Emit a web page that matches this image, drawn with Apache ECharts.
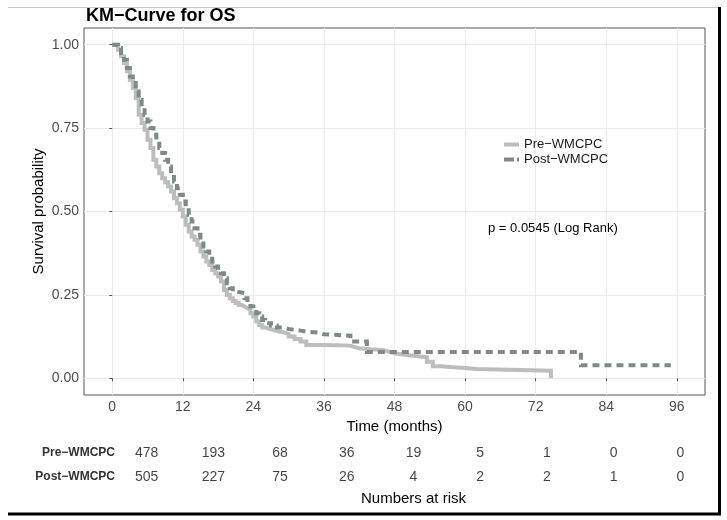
<!DOCTYPE html>
<html>
<head>
<meta charset="utf-8">
<script src="https://cdn.jsdelivr.net/npm/echarts@6/dist/echarts.min.js"></script>
<style>
html,body{margin:0;padding:0;background:#fff;}
#c{width:727px;height:520px;}
</style>
</head>
<body>
<div id="c"></div>
<script>
// ---- data ----
var groupNames = ['Pre\u2212WMCPC', 'Post\u2212WMCPC'];
var xTicks = [0, 12, 24, 36, 48, 60, 72, 84, 96];
var yTicks = [0, 0.25, 0.5, 0.75, 1.0];

var preTime = [0, 0.5, 1, 1.5, 2, 2.5, 3, 3.5, 4, 4.5, 5, 5.5, 6, 6.5, 7, 7.5, 8, 8.5, 9, 9.5, 10, 10.5, 11, 11.5, 12, 12.5, 13, 13.5, 14, 14.5, 15, 15.5, 16, 16.5, 17, 17.5, 18, 18.5, 19, 19.5, 20, 20.5, 21, 21.5, 22, 22.5, 23, 23.5, 24, 24.5, 25, 25.5, 26, 27, 28, 29, 30, 31, 32, 33, 36, 38, 40.5, 41, 42, 44, 46, 47, 48, 50, 52, 53.5, 54.5, 56, 58, 60, 62, 74.6];
var preSurv = [1.0, 0.995, 0.985, 0.965, 0.945, 0.92, 0.895, 0.87, 0.84, 0.79, 0.765, 0.745, 0.715, 0.69, 0.655, 0.635, 0.615, 0.60, 0.588, 0.575, 0.56, 0.54, 0.525, 0.505, 0.485, 0.46, 0.44, 0.425, 0.415, 0.40, 0.38, 0.365, 0.35, 0.34, 0.325, 0.315, 0.305, 0.29, 0.265, 0.25, 0.24, 0.232, 0.226, 0.22, 0.215, 0.21, 0.205, 0.195, 0.185, 0.17, 0.16, 0.152, 0.147, 0.142, 0.138, 0.133, 0.125, 0.118, 0.11, 0.10, 0.099, 0.098, 0.095, 0.09, 0.087, 0.085, 0.08, 0.075, 0.07, 0.066, 0.063, 0.05, 0.036, 0.033, 0.031, 0.028, 0.023, 0.0];

var postTime = [0, 0.5, 1, 1.5, 2, 2.5, 3, 3.5, 4, 4.5, 5, 5.5, 6, 6.5, 7, 7.5, 8, 8.5, 9, 9.5, 10, 10.5, 11, 11.5, 12, 12.5, 13, 13.5, 14, 14.5, 15, 15.5, 16, 16.5, 17, 17.5, 18, 18.5, 19, 19.5, 20, 20.5, 21, 22, 22.5, 23, 23.5, 24, 24.5, 25, 25.5, 26, 27, 28, 29, 30, 32, 33, 35, 36, 40.5, 43.3, 79.7, 95];
var postSurv = [1.0, 1.0, 0.99, 0.975, 0.955, 0.93, 0.905, 0.885, 0.86, 0.835, 0.81, 0.79, 0.77, 0.75, 0.73, 0.71, 0.69, 0.675, 0.655, 0.635, 0.61, 0.59, 0.57, 0.55, 0.53, 0.51, 0.49, 0.47, 0.45, 0.43, 0.41, 0.395, 0.38, 0.365, 0.35, 0.335, 0.325, 0.315, 0.30, 0.285, 0.27, 0.26, 0.257, 0.255, 0.24, 0.225, 0.215, 0.205, 0.195, 0.185, 0.175, 0.165, 0.158, 0.152, 0.148, 0.143, 0.14, 0.137, 0.132, 0.128, 0.11, 0.079, 0.039, 0.039];

var riskTimes = [0, 12, 24, 36, 48, 60, 72, 84, 96];
var riskPre = [478, 193, 68, 36, 19, 5, 1, 0, 0];
var riskPost = [505, 227, 75, 26, 4, 2, 2, 1, 0];

var pText = 'p = 0.0545 (Log Rank)';

// ---- build ----
function pairs(t, s) { return t.map(function (v, i) { return [v, s[i]]; }); }
var riskData = [];
riskTimes.forEach(function (t, i) {
  riskData.push([t, 0, riskPre[i]]);
  riskData.push([t, 1, riskPost[i]]);
});

var FONT = 'Liberation Sans, Arial, sans-serif';
var chart = echarts.init(document.getElementById('c'), null, {renderer: 'canvas'});
chart.setOption({
  animation: false,
  backgroundColor: '#ffffff',
  textStyle: {fontFamily: FONT},
  title: {
    text: 'KM\u2212Curve for OS',
    left: 81, top: 2,
    textStyle: {fontSize: 18, fontWeight: 'bold', color: '#000', fontFamily: FONT}
  },
  legend: {
    orient: 'vertical',
    left: 499, top: 133,
    itemWidth: 15, itemHeight: 4, itemGap: 2,
    textStyle: {fontSize: 13, color: '#1a1a1a', fontFamily: FONT},
    data: [
      {name: groupNames[0], icon: 'rect'},
      {name: groupNames[1], icon: 'path://M0,0H10V4H0Z M13,0H15V4H13Z'}
    ]
  },
  grid: [
    {left: 84, top: 28, width: 621, height: 367, show: true, borderColor: '#555', borderWidth: 1, backgroundColor: 'transparent'},
    {left: 120, top: 441, width: 587, height: 48, show: false}
  ],
  xAxis: [
    {
      type: 'value', gridIndex: 0, min: -4.8, max: 100.8,
      name: 'Time (months)', nameLocation: 'middle', nameGap: 20,
      nameTextStyle: {fontSize: 15, color: '#000', fontFamily: FONT},
      axisLine: {show: false},
      axisTick: {show: true, length: 3, lineStyle: {color: '#555'}, customValues: xTicks},
      axisLabel: {fontSize: 14, color: '#4d4d4d', margin: 5, customValues: xTicks, fontFamily: FONT},
      splitLine: {show: true, lineStyle: {color: '#ebebeb', width: 1}}
    },
    {
      type: 'value', gridIndex: 1, min: -4.8, max: 100.8,
      name: 'Numbers at risk', nameLocation: 'middle', nameGap: 2,
      nameTextStyle: {fontSize: 15, color: '#000', fontFamily: FONT, verticalAlign: 'top', padding: [0, 0, 0, 0]},
      axisLine: {show: false}, axisTick: {show: false}, axisLabel: {show: false}, splitLine: {show: false}
    }
  ],
  yAxis: [
    {
      type: 'value', gridIndex: 0, min: -0.05, max: 1.05,
      name: 'Survival probability', nameLocation: 'middle', nameGap: 38,
      nameMoveOverlap: false,
      nameTextStyle: {fontSize: 15, color: '#000', fontFamily: FONT},
      axisLine: {show: false},
      axisTick: {show: true, length: 3, lineStyle: {color: '#555'}, customValues: yTicks},
      axisLabel: {fontSize: 14, color: '#4d4d4d', margin: 5, customValues: yTicks, fontFamily: FONT,
        formatter: function (v) { return v.toFixed(2); }},
      splitLine: {show: true, lineStyle: {color: '#ebebeb', width: 1}}
    },
    {
      type: 'category', gridIndex: 1, data: groupNames, inverse: true,
      axisLine: {show: false}, axisTick: {show: false},
      axisLabel: {fontSize: 12, fontWeight: 'bold', color: '#333', margin: 5, fontFamily: FONT},
      splitLine: {show: false}
    }
  ],
  series: [
    {
      name: groupNames[0], type: 'line', step: 'end', xAxisIndex: 0, yAxisIndex: 0,
      data: pairs(preTime, preSurv), symbol: 'none', z: 2,
      color: '#bdbdbd',
      lineStyle: {color: '#bdbdbd', width: 4, cap: 'butt', join: 'miter'}
    },
    {
      name: groupNames[1], type: 'line', step: 'end', xAxisIndex: 0, yAxisIndex: 0,
      data: pairs(postTime, postSurv), symbol: 'none', z: 3,
      color: '#7d8a87',
      lineStyle: {color: '#7d8a87', width: 4, type: [7, 5], cap: 'butt', join: 'miter'}
    },
    {
      type: 'scatter', xAxisIndex: 1, yAxisIndex: 1,
      data: riskData, symbolSize: 2, itemStyle: {color: 'rgba(0,0,0,0)'},
      silent: true,
      label: {show: true, position: 'inside', fontSize: 14, color: '#111', fontFamily: FONT,
        formatter: function (p) { return String(p.value[2]); }}
    }
  ],
  graphic: [
    {type: 'text', left: 488, top: 222, style: {text: pText, fontSize: 13, fill: '#000', fontFamily: FONT}},
    {type: 'line', shape: {x1: 8, y1: 7.5, x2: 718, y2: 7.5}, style: {stroke: '#c8c8c8', lineWidth: 1}},
    {type: 'line', shape: {x1: 719.5, y1: 7, x2: 719.5, y2: 515}, style: {stroke: '#000', lineWidth: 3}},
    {type: 'line', shape: {x1: 8, y1: 514, x2: 721, y2: 514}, style: {stroke: '#000', lineWidth: 3}}
  ]
});
</script>
</body>
</html>
